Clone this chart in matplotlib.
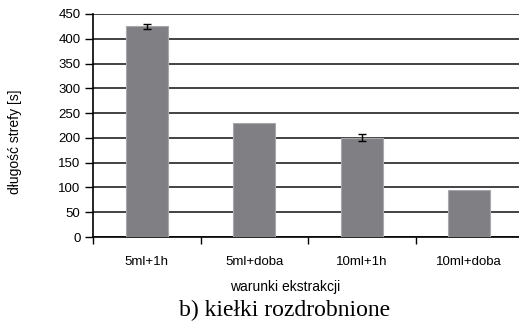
import matplotlib
matplotlib.use("Agg")
import matplotlib.pyplot as plt
import numpy as np

categories = ["5ml+1h", "5ml+doba", "10ml+1h", "10ml+doba"]
values = [425, 230, 200, 95]
errors = [5, 0, 7, 0]
yticks = [0, 50, 100, 150, 200, 250, 300, 350, 400, 450]

W, H = 519, 325
fig = plt.figure(figsize=(W / 100, H / 100), dpi=100)
ax = fig.add_axes([93 / W, (H - 237) / H, 430 / W, 223 / H])

x = np.arange(len(categories))
ax.bar(x, values, width=0.39, color="#7f7f84", edgecolor="#a8a8ac",
       linewidth=0.8, zorder=3)
# error bars only where a spread was measured
has_err = [i for i, e in enumerate(errors) if e > 0]
ax.errorbar(x[has_err], [values[i] for i in has_err],
            yerr=[errors[i] for i in has_err], fmt="none", ecolor="black",
            elinewidth=1.0, capsize=3, capthick=1.0, zorder=4)

ax.set_xlim(-0.5, len(categories) - 0.5)
ax.set_ylim(0, 450)
ax.set_yticks(yticks)
ax.yaxis.grid(True, color="#222222", linewidth=1.2, zorder=1)
ax.set_axisbelow(True)

font = {"family": "Liberation Sans", "size": 9.5}
ax.set_yticklabels([str(t) for t in yticks], **font)
ax.set_xticks(x)
ax.set_xticklabels(categories, **font)
ax.set_xticks(np.arange(len(categories) + 1) - 0.5, minor=True)
ax.tick_params(axis="x", which="major", length=0, pad=14)
ax.tick_params(axis="x", which="minor", length=5, width=1, direction="out")
ax.tick_params(axis="y", length=6, width=1, direction="out", pad=3)

for s in ["top", "right"]:
    ax.spines[s].set_visible(False)
for s in ["left", "bottom"]:
    ax.spines[s].set_linewidth(1.2)
    ax.spines[s].set_color("black")

fig.text(15 / W, 1 - 142 / H, "długość strefy [s]", rotation=90,
         ha="center", va="center", family="Liberation Sans", size=10)
fig.text(285 / W, 1 - 287 / H, "warunki ekstrakcji", ha="center",
         va="center", family="Liberation Sans", size=10)
fig.text(285 / W, 1 - 310 / H, "b) kiełki rozdrobnione", ha="center",
         va="center", family="Liberation Serif", size=17)

fig.savefig("out.png", dpi=100)
